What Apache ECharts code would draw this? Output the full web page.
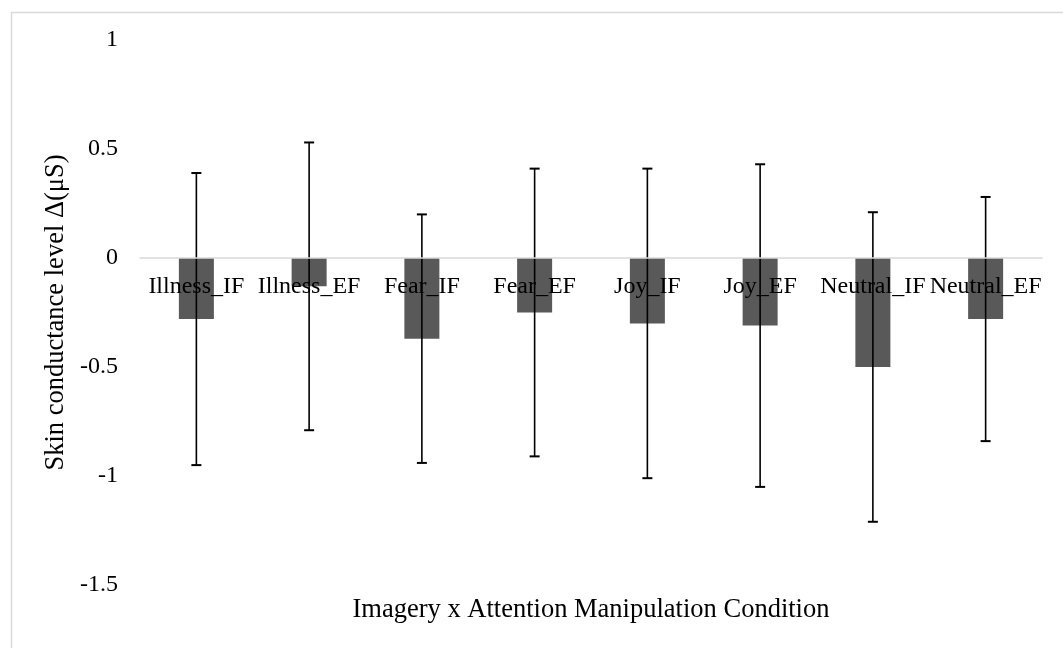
<!DOCTYPE html>
<html>
<head>
<meta charset="utf-8">
<script src="https://cdn.jsdelivr.net/npm/echarts@6/dist/echarts.min.js"></script>
<style>
html,body{margin:0;padding:0;background:#fff;}
#chart{width:1063px;height:648px;}
</style>
</head>
<body>
<div id="chart"></div>
<script>
const categories = ['Illness_IF','Illness_EF','Fear_IF','Fear_EF','Joy_IF','Joy_EF','Neutral_IF','Neutral_EF'];
const means = [-0.28,-0.13,-0.37,-0.25,-0.30,-0.31,-0.50,-0.28];
const errors = [0.67,0.66,0.57,0.66,0.71,0.74,0.71,0.56];
const yTitle = 'Skin conductance level Δ(μS)';
const xTitle = 'Imagery x Attention Manipulation Condition';

const FONT = '"Liberation Serif", "Times New Roman", serif';
const chart = echarts.init(document.getElementById('chart'), null, {renderer:'canvas'});
const errData = categories.map((c,i)=>[i, means[i], errors[i]]);

chart.setOption({
  animation:false,
  backgroundColor:'#fff',
  graphic:[{type:'rect', left:9, top:10, shape:{width:1100,height:700}, style:{fill:'none', stroke:'#d9d9d9', lineWidth:1.5}, z:-10}],
  grid:{left:140, right:21, top:40, bottom:63, containLabel:false, outerBoundsMode:'none'},
  xAxis:{
    type:'category', data:categories, z:10,
    axisLine:{show:true, onZero:true, lineStyle:{color:'#d9d9d9', width:1.5}},
    axisTick:{show:false},
    axisLabel:{color:'#000', fontFamily:FONT, fontSize:24, margin:-310, interval:0},
    name:xTitle, nameLocation:'middle', nameGap:12,
    nameTextStyle:{color:'#000', fontFamily:FONT, fontSize:26.5}
  },
  yAxis:{
    type:'value', min:-1.5, max:1, interval:0.5,
    axisLine:{show:false}, axisTick:{show:false}, splitLine:{show:false},
    axisLabel:{color:'#000', fontFamily:FONT, fontSize:24, margin:22},
    name:yTitle, nameLocation:'middle', nameGap:61,
    nameTextStyle:{color:'#000', fontFamily:FONT, fontSize:26.5}
  },
  series:[
    {type:'bar', data:means, barWidth:35, itemStyle:{color:'#595959'}, z:2},
    {type:'custom', data:errData, z:5,
     renderItem:function(params, api){
       const i = api.value(0), m = api.value(1), e = api.value(2);
       const top = api.coord([i, m+e]);
       const bot = api.coord([i, m-e]);
       const hw = 5;
       const st = {stroke:'#000', lineWidth:1.6};
       return {type:'group', children:[
         {type:'line', shape:{x1:top[0],y1:top[1],x2:bot[0],y2:bot[1]}, style:st},
         {type:'line', shape:{x1:top[0]-hw,y1:top[1],x2:top[0]+hw,y2:top[1]}, style:{stroke:'#000', lineWidth:2}},
         {type:'line', shape:{x1:bot[0]-hw,y1:bot[1],x2:bot[0]+hw,y2:bot[1]}, style:{stroke:'#000', lineWidth:2}}
       ]};
     }}
  ]
});
</script>
</body>
</html>
